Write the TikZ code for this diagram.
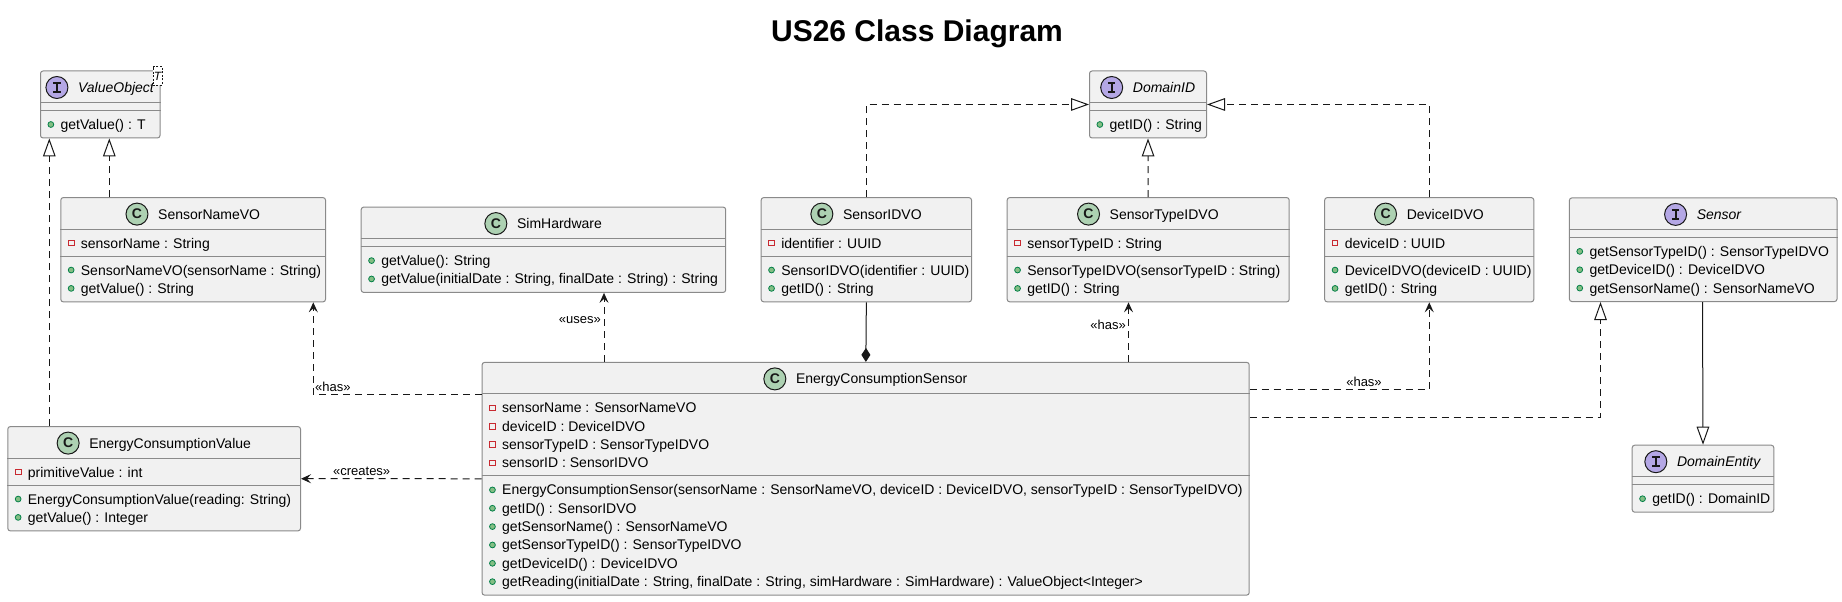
\documentclass[tikz,border=0pt]{standalone}
\usepackage{fontspec}
\setmainfont{Liberation Sans}
\usetikzlibrary{arrows.meta,calc}
\definecolor{boxfill}{HTML}{F1F1F1}
\definecolor{boxline}{HTML}{8A8A8A}
\definecolor{dark}{HTML}{181818}
\definecolor{cfill}{HTML}{ADD1B2}
\definecolor{ifill}{HTML}{B4A7E5}
\definecolor{privred}{HTML}{C82930}
\definecolor{pubfill}{HTML}{84BE84}
\definecolor{publine}{HTML}{038048}

\tikzset{
  cbox/.style={draw=boxline, fill=boxfill, line width=1pt, rounded corners=2.5pt, inner sep=0pt, anchor=north west},
  divl/.style={draw=boxline, line width=1pt},
  htext/.style={inner sep=0pt, font=\fontsize{14}{16}\selectfont, text height=10pt, text depth=0pt},
  mtext/.style={anchor=west, inner sep=0pt, font=\fontsize{14}{16}\selectfont, text height=10pt, text depth=0pt},
  lbl/.style={inner sep=0pt, font=\fontsize{13}{15}\selectfont, text height=9pt, text depth=0pt},
  dep/.style={draw=dark, line width=1pt, dash pattern=on 7pt off 5pt, -{Stealth[length=10pt,width=9pt,inset=4pt]}},
  realize/.style={draw=dark, line width=1pt, dash pattern=on 7pt off 5pt, -{Triangle[open,length=18pt,width=12.6pt,fill=white]}},
  gen/.style={draw=dark, line width=1pt, -{Triangle[open,length=18pt,width=12.6pt,fill=white]}},
  comp/.style={draw=dark, line width=1pt, -{Diamond[length=14pt,width=9pt]}}
}

\newcommand\circC[1]{%
  \draw[fill=cfill, draw=dark, line width=1pt] ($(#1.west)+(11,0)$) circle (11pt);
  \node[inner sep=0pt, font=\bfseries\fontsize{14}{14}\selectfont, text=dark] (#1c) at ($(#1.west)+(11,0)$) {C};}
\newcommand\circI[1]{%
  \draw[fill=ifill, draw=dark, line width=1pt] ($(#1.west)+(11,0)$) circle (11pt);
  \draw[dark, line width=2pt] ($(#1.west)+(7.3,-4.6)$) -- ++(7.4,0) ($(#1.west)+(7.3,4.6)$) -- ++(7.4,0) ($(#1.west)+(11,-4.6)$) -- ++(0,9.2);}

% #1 name, #2 circle macro, #3 left, #4 top, #5 width, #6 title, #7 nfields, #8 nmethods
\newcommand\umlclass[8]{%
  \pgfmathsetmacro\fsec{(#7==0) ? 8 : 8.6+#7*18.35}%
  \pgfmathsetmacro\msec{(#8==0) ? 8 : 8.6+#8*18.35}%
  \pgfmathsetmacro\tot{32+\fsec+\msec}%
  \pgfmathsetmacro\fm{32+\fsec}%
  \node[cbox, minimum width=#5pt, minimum height=\tot pt] (#1) at (#3,#4) {};
  \coordinate (#1F) at ($(#1.north west)+(0,32)$);
  \coordinate (#1M) at ($(#1.north west)+(0,\fm)$);
  \draw[divl] (#1F) -- (#1F -| #1.east);
  \draw[divl] (#1M) -- (#1M -| #1.east);
  \node[htext] (#1T) at ($(#1.north)+(0,17)$) {\hspace*{32pt}#6};
  #2{#1T}%
}
\newcommand\ufield[3]{%
  \draw[draw=privred, line width=1pt] ($(#1F)+(8,14+#2*18.35-2.85)$) rectangle ++(5.7,5.7);
  \node[mtext] (#1f#2) at ($(#1F)+(20.4,14+#2*18.35)$) {#3};}
\newcommand\umethod[3]{%
  \draw[draw=publine, fill=pubfill, line width=0.8pt] ($(#1M)+(10.85,14+#2*18.35)$) circle (2.9pt);
  \node[mtext] (#1m#2) at ($(#1M)+(20.4,14+#2*18.35)$) {#3};}

\begin{document}
\begin{tikzpicture}[x=1pt, y=-1pt]
\fill[white] (0,0) rectangle (1842,602);
\useasboundingbox (0,0) rectangle (1842,602);

\node[inner sep=0pt, font=\bfseries\fontsize{30}{34}\selectfont] (title) at (917,34) {US26 Class Diagram};

% ---- classes ----
\umlclass{VO}{\circI}{40}{70.5}{119.5}{\textit{ValueObject}}{0}{1}
\umethod{VO}{0}{getValue() : T}
\node[draw=dark, dash pattern=on 2pt off 1.5pt, line width=0.6pt, fill=white, minimum width=9.3pt, minimum height=18.3pt, inner sep=0pt, font=\itshape\fontsize{12}{12}\selectfont] (VOT) at (157.6,75.9) {T};

\umlclass{DID}{\circI}{1089}{70.5}{117}{\textit{DomainID}}{0}{1}
\umethod{DID}{0}{getID() : String}

\umlclass{SNVO}{\circC}{60.3}{197.1}{264.7}{SensorNameVO}{1}{2}
\ufield{SNVO}{0}{sensorName : String}
\umethod{SNVO}{0}{SensorNameVO(sensorName : String)}
\umethod{SNVO}{1}{getValue() : String}

\umlclass{SIM}{\circC}{360.7}{206.6}{364.5}{SimHardware}{0}{2}
\umethod{SIM}{0}{getValue(): String}
\umethod{SIM}{1}{getValue(initialDate : String, finalDate : String) : String}

\umlclass{SIDVO}{\circC}{760.7}{197.1}{210.3}{SensorIDVO}{1}{2}
\ufield{SIDVO}{0}{identifier : UUID}
\umethod{SIDVO}{0}{SensorIDVO(identifier : UUID)}
\umethod{SIDVO}{1}{getID() : String}

\umlclass{STIDVO}{\circC}{1006.7}{197.1}{282}{SensorTypeIDVO}{1}{2}
\ufield{STIDVO}{0}{sensorTypeID : String}
\umethod{STIDVO}{0}{SensorTypeIDVO(sensorTypeID : String)}
\umethod{STIDVO}{1}{getID() : String}

\umlclass{DIDVO}{\circC}{1324.2}{197.1}{209.1}{DeviceIDVO}{1}{2}
\ufield{DIDVO}{0}{deviceID : UUID}
\umethod{DIDVO}{0}{DeviceIDVO(deviceID : UUID)}
\umethod{DIDVO}{1}{getID() : String}

\umlclass{SEN}{\circI}{1568.9}{197.4}{267.6}{\textit{Sensor}}{0}{3}
\umethod{SEN}{0}{getSensorTypeID() : SensorTypeIDVO}
\umethod{SEN}{1}{getDeviceID() : DeviceIDVO}
\umethod{SEN}{2}{getSensorName() : SensorNameVO}

\umlclass{ECV}{\circC}{7.3}{426.1}{292.7}{EnergyConsumptionValue}{1}{2}
\ufield{ECV}{0}{primitiveValue : int}
\umethod{ECV}{0}{EnergyConsumptionValue(reading: String)}
\umethod{ECV}{1}{getValue() : Integer}

\umlclass{ECS}{\circC}{481.6}{361.9}{767.1}{EnergyConsumptionSensor}{4}{6}
\ufield{ECS}{0}{sensorName : SensorNameVO}
\ufield{ECS}{1}{deviceID : DeviceIDVO}
\ufield{ECS}{2}{sensorTypeID : SensorTypeIDVO}
\ufield{ECS}{3}{sensorID : SensorIDVO}
\umethod{ECS}{0}{EnergyConsumptionSensor(sensorName : SensorNameVO, deviceID : DeviceIDVO, sensorTypeID : SensorTypeIDVO)}
\umethod{ECS}{1}{getID() : SensorIDVO}
\umethod{ECS}{2}{getSensorName() : SensorNameVO}
\umethod{ECS}{3}{getSensorTypeID() : SensorTypeIDVO}
\umethod{ECS}{4}{getDeviceID() : DeviceIDVO}
\umethod{ECS}{5}{getReading(initialDate : String, finalDate : String, simHardware : SimHardware) : ValueObject<Integer>}

\umlclass{DE}{\circI}{1631.7}{444.7}{141.6}{\textit{DomainEntity}}{0}{1}
\umethod{DE}{0}{getID() : DomainID}

% ---- connectors ----
\draw[realize] ($(ECV.north west)+(42,0)$) -- ($(VO.south west)+(9.3,0)$);
\draw[realize] ($(SNVO.north west)+(49,0)$) -- ($(VO.south west)+(69.3,0)$);
\draw[dep] ($(ECS.north west)+(0,32.4)$) -| ($(SNVO.south east)+(-12.7,0)$);
\node[lbl, anchor=west] (lhas1) at (315,387.3) {«has»};
\draw[dep] (ECS.west) -- (ECV.east) node[lbl, pos=0.664, yshift=7.5pt] (lcreates) {«creates»};
\draw[dep] ($(ECS.north west)+(122.4,0)$) -- ($(SIM.south west)+(243.3,0)$);
\node[lbl, anchor=east] (luses) at (601,319.3) {«uses»};
\draw[comp] (SIDVO.south) -- ($(ECS.north west)+(384.25,0)$);
\draw[realize] (SIDVO.north) |- (DID.west);
\draw[realize] (STIDVO.north) -- (DID.south);
\draw[realize] (DIDVO.north) |- (DID.east);
\draw[dep] ($(ECS.north west)+(646.9,0)$) -- ($(STIDVO.south west)+(121.8,0)$);
\node[lbl, anchor=east] (lhas2) at (1126,325) {«has»};
\draw[dep] ($(ECS.north east)+(0,27.4)$) -| (DIDVO.south);
\node[lbl] (lhas3) at (1364,381.7) {«has»};
\draw[realize] ($(ECS.north east)+(0,55.1)$) -| ($(SEN.south west)+(31.6,0)$);
\draw[gen] ($(SEN.south west)+(133.6,0)$) -- (DE.north);
\end{tikzpicture}
\end{document}
